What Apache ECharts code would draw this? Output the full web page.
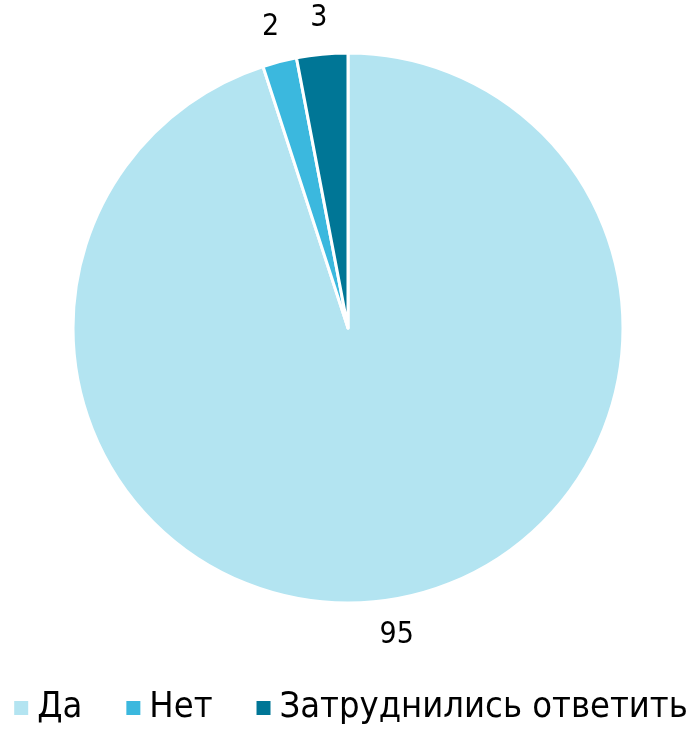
<!DOCTYPE html>
<html>
<head>
<meta charset="utf-8">
<script src="https://cdn.jsdelivr.net/npm/echarts@6/dist/echarts.min.js"></script>
<style>
  html, body { margin: 0; padding: 0; background: #fff; }
  #chart { width: 700px; height: 729px; }
</style>
</head>
<body>
<div id="chart"></div>
<script>
// ответы на вопрос
const categories = ['Да', 'Нет', 'Затруднились ответить']
const values = [95, 2, 3]
const colors = ['#b3e4f1', '#3bb8de', '#007696']

const font = '"DejaVu Sans Condensed", "DejaVu Sans", sans-serif'

const pieData = categories.map((name, i) => ({
  name: name,
  value: values[i],
  itemStyle: { color: colors[i] }
}))

const chart = echarts.init(document.getElementById('chart'))

const option = {
  animation: false,
  legend: {
    data: categories,
    left: 'center',
    bottom: -2,
    icon: 'rect',
    itemWidth: 16,
    itemHeight: 16,
    itemGap: 42,
    textStyle: {
      fontFamily: font,
      fontSize: 36,
      color: '#000',
      padding: [0, 0, 0, 3]
    }
  },
  series: [
    {
      type: 'pie',
      center: [348, 328],
      radius: [0, 275],
      startAngle: 90,
      clockwise: true,
      data: pieData,
      itemStyle: { borderColor: '#fff', borderWidth: 3 },
      label: { show: false },
      labelLine: { show: false }
    },
    // прозрачное кольцо только для подписей значений
    {
      type: 'pie',
      center: [348, 328],
      radius: [298, 318],
      startAngle: 90,
      clockwise: true,
      silent: true,
      data: pieData.map(d => ({ name: d.name, value: d.value, itemStyle: { color: 'transparent' } })),
      label: {
        show: true,
        position: 'inside',
        formatter: '{c}',
        fontFamily: font,
        fontSize: 30,
        color: '#000'
      },
      labelLine: { show: false }
    }
  ]
}

chart.setOption(option)
</script>
</body>
</html>
